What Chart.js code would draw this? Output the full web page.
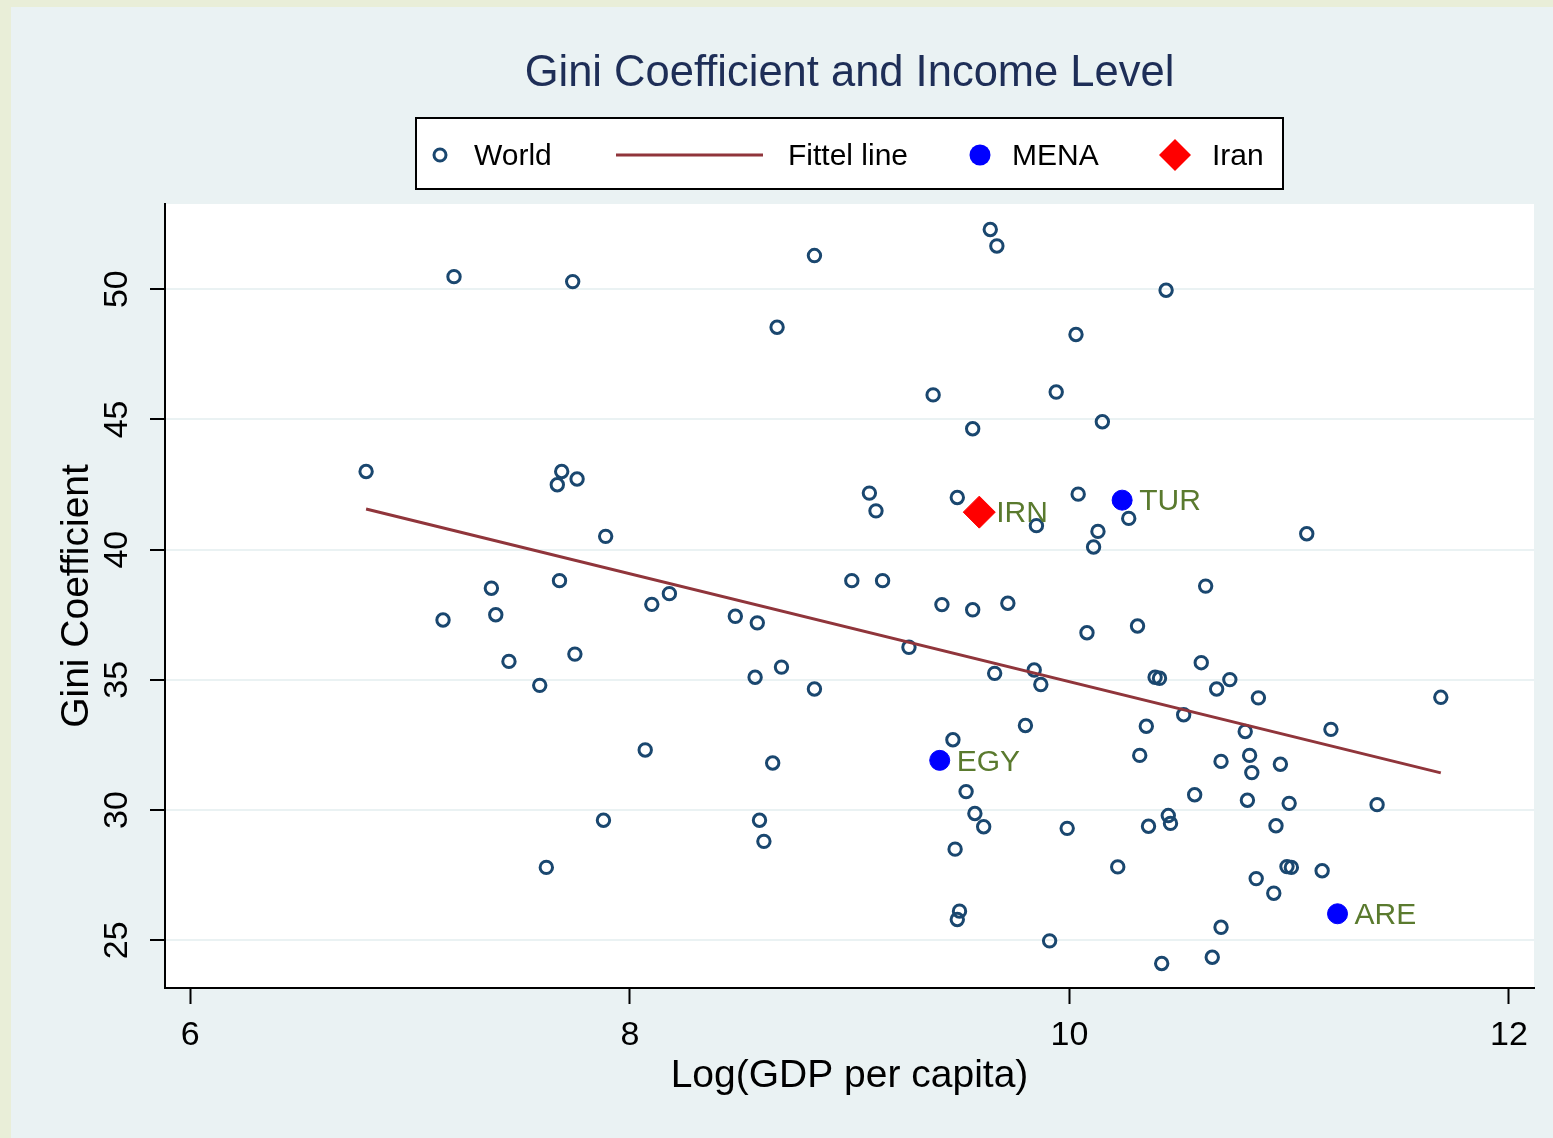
<!DOCTYPE html>
<html><head><meta charset="utf-8">
<script src="https://cdn.jsdelivr.net/npm/chart.js@4.4.1/dist/chart.umd.min.js"></script>
<style>
html,body{margin:0;padding:0;background:#e9eed8;width:1553px;height:1138px;overflow:hidden}
#wrap{position:absolute;left:11px;top:7px;width:1542px;height:1131px;background:#eaf2f3}
canvas{display:block}
</style></head><body>
<div id="wrap"><canvas id="c" width="1542" height="1131"></canvas></div>
<script>
// ---------------- data ----------------
const chartTitle = "Gini Coefficient and Income Level";
const xTitle = "Log(GDP per capita)";
const yTitle = "Gini Coefficient";
const legendLabels = ["World", "Fittel line", "MENA", "Iran"];
const xTicks = [6, 8, 10, 12];
const yTicks = [25, 30, 35, 40, 45, 50];

const worldX = [7.20,7.74,6.80,7.69,7.67,7.76,7.89,7.37,7.68,7.15,7.39,7.45,7.75,7.59,7.88,7.62,
  8.84,9.64,9.67,8.67,10.03,9.38,9.94,9.56,10.15,9.09,9.12,9.49,9.85,10.04,10.13,10.11,9.01,9.15,
  10.44,10.27,11.08,10.62,8.10,8.18,8.48,8.58,9.42,9.56,9.72,10.08,9.27,8.57,8.69,8.84,9.66,9.84,
  9.87,9.80,9.47,8.07,8.65,9.53,9.57,9.61,9.99,8.59,8.61,9.48,9.50,9.49,9.91,10.31,10.60,10.39,
  10.41,10.73,10.67,10.86,11.69,10.52,10.35,10.80,11.19,10.32,10.69,10.82,10.83,10.96,10.57,10.81,
  11.00,11.40,10.36,10.45,10.46,10.94,10.22,10.99,11.01,11.15,10.85,10.93,10.69,10.65,10.42];
const worldY = [50.48,50.29,43.00,43.00,42.49,42.71,40.51,38.52,38.81,37.30,37.50,35.71,35.99,34.79,29.61,27.80,
  51.29,52.29,51.66,48.54,48.26,45.94,46.05,44.64,44.91,42.17,41.49,42.00,40.92,42.13,40.70,40.10,38.81,38.81,
  49.96,41.20,40.61,38.60,37.90,38.31,37.44,37.19,37.89,37.69,37.94,36.81,36.25,35.10,35.49,34.65,35.25,35.38,
  34.82,33.25,32.70,32.31,31.81,30.71,29.87,29.36,29.30,29.61,28.80,28.50,26.12,25.80,24.98,37.07,35.66,35.10,
  35.06,35.01,34.65,34.31,34.33,33.66,33.22,33.02,33.10,32.10,31.87,32.10,31.44,31.76,30.59,30.38,
  30.26,30.21,29.38,29.79,29.49,29.40,27.82,27.83,27.80,27.67,27.37,26.81,25.50,24.35,24.11];

const fitX = [6.80, 11.69];
const fitY = [41.56, 31.43];

const menaLabels = ["EGY", "TUR", "ARE"];
const menaX = [9.41, 10.24, 11.22];
const menaY = [31.91, 41.90, 26.02];

const iranLabels = ["IRN"];
const iranX = [9.59];
const iranY = [41.44];

// ---------------- style ----------------
const FONT = "'Liberation Sans', Arial, Helvetica, sans-serif";
const NAVY = '#1a476f';
const MAROON = '#90353b';
const BLUE = '#0000ff';
const RED = '#ff0000';
const OLIVE = '#5a7a2e';
const GRID = '#eaf2f3';

const pts = (xs, ys) => xs.map((x, i) => ({x: x, y: ys[i]}));

const decorPlugin = {
  id: 'decor',
  beforeDraw(chart) {
    const {ctx, chartArea: a} = chart;
    ctx.save();
    ctx.fillStyle = '#ffffff';
    ctx.fillRect(a.left, a.top, a.right - a.left, a.bottom - a.top);
    ctx.restore();
  },
  afterDatasetsDraw(chart) {
    const ctx = chart.ctx;
    ctx.save();
    ctx.font = '30px ' + FONT;
    ctx.fillStyle = OLIVE;
    ctx.textAlign = 'left';
    ctx.textBaseline = 'middle';
    const lab = (dsIndex, labels) => {
      chart.getDatasetMeta(dsIndex).data.forEach((el, i) => {
        ctx.fillText(labels[i], el.x + 17, el.y + 2);
      });
    };
    lab(2, menaLabels);
    lab(3, iranLabels);
    ctx.restore();
  },
  afterDraw(chart) {
    const {ctx, chartArea: a} = chart;
    const ys = chart.scales.y;
    const cx = (a.left + a.right) / 2;
    ctx.save();
    // y tick labels (rotated)
    ctx.font = '34px ' + FONT;
    ctx.fillStyle = '#000';
    ctx.textAlign = 'center';
    ctx.textBaseline = 'middle';
    yTicks.forEach(v => {
      const py = ys.getPixelForValue(v);
      ctx.save();
      ctx.translate(107, py);
      ctx.rotate(-Math.PI / 2);
      ctx.fillText(String(v), 0, 0);
      ctx.restore();
    });
    // title
    ctx.font = '43.5px ' + FONT;
    ctx.fillStyle = '#1e2e57';
    ctx.fillText(chartTitle, cx, 67);
    // legend box
    const bw = 867, bh = 71;
    const bx = Math.round(cx - bw / 2), by = 111;
    ctx.fillStyle = '#fff';
    ctx.fillRect(bx, by, bw, bh);
    ctx.strokeStyle = '#000';
    ctx.lineWidth = 2;
    ctx.strokeRect(bx, by, bw, bh);
    const cy = by + 37;
    ctx.font = '30px ' + FONT;
    ctx.fillStyle = '#000';
    ctx.textAlign = 'left';
    // World
    ctx.beginPath();
    ctx.arc(bx + 24, cy, 6, 0, Math.PI * 2);
    ctx.lineWidth = 3;
    ctx.strokeStyle = NAVY;
    ctx.stroke();
    ctx.fillStyle = '#000';
    ctx.fillText(legendLabels[0], bx + 58, cy + 2);
    // Fitted line
    ctx.beginPath();
    ctx.moveTo(bx + 200, cy);
    ctx.lineTo(bx + 347, cy);
    ctx.lineWidth = 3;
    ctx.strokeStyle = MAROON;
    ctx.stroke();
    ctx.fillText(legendLabels[1], bx + 372, cy + 2);
    // MENA
    ctx.beginPath();
    ctx.arc(bx + 564, cy, 10.5, 0, Math.PI * 2);
    ctx.fillStyle = BLUE;
    ctx.fill();
    ctx.fillStyle = '#000';
    ctx.fillText(legendLabels[2], bx + 596, cy + 2);
    // Iran
    const dx = bx + 759, r = 16;
    ctx.beginPath();
    ctx.moveTo(dx - r, cy); ctx.lineTo(dx, cy - r); ctx.lineTo(dx + r, cy); ctx.lineTo(dx, cy + r);
    ctx.closePath();
    ctx.fillStyle = RED;
    ctx.fill();
    ctx.fillStyle = '#000';
    ctx.fillText(legendLabels[3], bx + 796, cy + 2);
    ctx.restore();
  }
};

new Chart(document.getElementById('c'), {
  type: 'scatter',
  data: {
    datasets: [
      { label: legendLabels[0], data: pts(worldX, worldY), order: 3,
        pointStyle: 'circle', pointRadius: 6.2, pointBorderWidth: 3,
        pointBackgroundColor: 'rgba(0,0,0,0)', pointBorderColor: NAVY, showLine: false },
      { type: 'line', label: legendLabels[1], data: pts(fitX, fitY), order: 2,
        borderColor: MAROON, borderWidth: 3, pointRadius: 0, fill: false, tension: 0 },
      { label: legendLabels[2], data: pts(menaX, menaY), order: 1,
        pointStyle: 'circle', pointRadius: 10, pointBorderWidth: 1,
        pointBackgroundColor: BLUE, pointBorderColor: BLUE, showLine: false },
      { label: legendLabels[3], data: pts(iranX, iranY), order: 0,
        pointStyle: 'rectRot', pointRadius: 16, pointBorderWidth: 1,
        pointBackgroundColor: RED, pointBorderColor: RED, showLine: false }
    ]
  },
  options: {
    responsive: false,
    devicePixelRatio: 1,
    animation: false,
    layout: { padding: { top: 197, left: 0, right: 19, bottom: 0 } },
    plugins: { legend: { display: false }, tooltip: { enabled: false }, title: { display: false } },
    scales: {
      x: {
        type: 'linear', min: 5.885, max: 12.114,
        afterBuildTicks: s => { s.ticks = xTicks.map(v => ({ value: v })); },
        afterFit: s => { s.height = 150; },
        grid: { drawOnChartArea: false, drawTicks: true, tickLength: 16, tickColor: '#000', tickWidth: 2, color: '#000' },
        border: { display: true, color: '#000', width: 2 },
        ticks: { color: '#000', font: { size: 34, family: FONT }, padding: 11, maxRotation: 0, autoSkip: false },
        title: { display: true, text: xTitle, color: '#000', font: { size: 39, family: FONT }, padding: { top: 0, bottom: 38 } }
      },
      y: {
        type: 'linear', min: 23.17, max: 53.27,
        afterBuildTicks: s => { s.ticks = yTicks.map(v => ({ value: v })); },
        afterFit: s => { s.width = 154; },
        grid: { color: GRID, lineWidth: 2, drawTicks: true, tickLength: 15, tickColor: '#000', tickWidth: 2 },
        border: { display: true, color: '#000', width: 2 },
        ticks: { display: false },
        title: { display: true, text: yTitle, color: '#000', font: { size: 39, family: FONT }, padding: { top: 43, bottom: 0 } }
      }
    }
  },
  plugins: [decorPlugin]
});
</script>
</body></html>
